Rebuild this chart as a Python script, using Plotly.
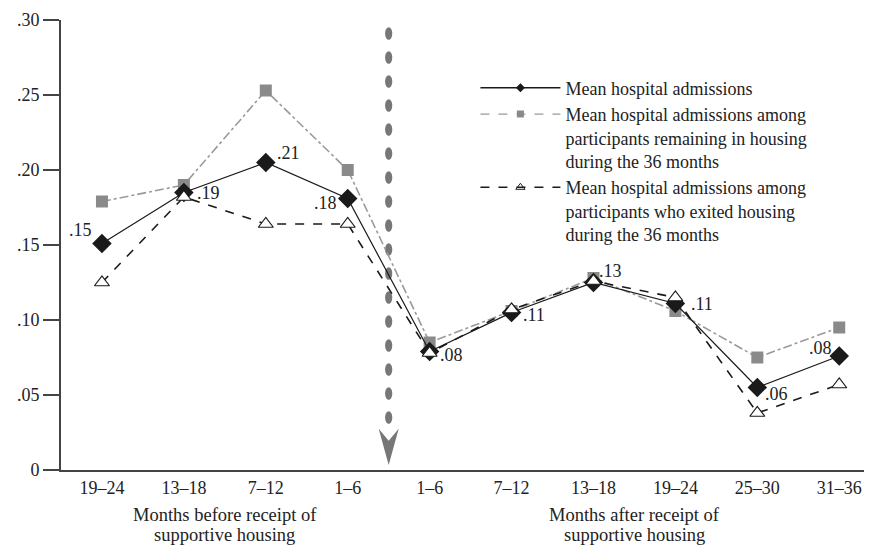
import plotly.graph_objects as go

# ---- data ----
categories = ["19–24", "13–18", "7–12", "1–6", "1–6", "7–12", "13–18", "19–24", "25–30", "31–36"]
x_idx = list(range(len(categories)))
mean_all = [0.151, 0.185, 0.205, 0.181, 0.079, 0.105, 0.125, 0.111, 0.055, 0.076]
remaining = [0.179, 0.190, 0.253, 0.200, 0.085, 0.106, 0.128, 0.106, 0.075, 0.095]
exited = [0.125, 0.182, 0.164, 0.164, 0.078, 0.107, 0.126, 0.115, 0.038, 0.057]
mean_labels = [".15", ".19", ".21", ".18", ".08", ".11", ".13", ".11", ".06", ".08"]
y_ticks = [0, 0.05, 0.10, 0.15, 0.20, 0.25, 0.30]
y_ticktext = ["0", ".05", ".10", ".15", ".20", ".25", ".30"]
names = ["Mean hospital admissions",
         "Mean hospital admissions among<br>participants remaining in housing<br>during the 36 months",
         "Mean hospital admissions among<br>participants who exited housing<br>during the 36 months"]
group_titles = [["Months before receipt of", "supportive housing"],
                ["Months after receipt of", "supportive housing"]]

# label offsets (pixels)
label_offsets = [(-21, 14), (25, 0), (23, 10), (-22, -4), (22, -3),
                 (22, -2), (17, 12), (27, 0), (19, -6), (-19, 8)]

FONT = "Liberation Serif"
BLACK = "#1a1a1a"
GRAY_M = "#8a8a8a"
GRAY_L = "#9a9a9a"
ARROW = "#777777"

fig = go.Figure()

fig.add_trace(go.Scatter(x=x_idx, y=remaining, mode="lines+markers", showlegend=False,
                         line=dict(color=GRAY_L, width=1.6, dash="dashdot"),
                         marker=dict(symbol="square", size=12, color=GRAY_M), cliponaxis=False))
fig.add_trace(go.Scatter(x=x_idx, y=exited, mode="lines", showlegend=False,
                         line=dict(color=BLACK, width=1.6, dash="dash"), cliponaxis=False))
fig.add_trace(go.Scatter(x=x_idx, y=mean_all, mode="lines+markers", showlegend=False,
                         line=dict(color=BLACK, width=1.2),
                         marker=dict(symbol="diamond", size=15, color=BLACK), cliponaxis=False))
fig.add_trace(go.Scatter(x=x_idx, y=exited, mode="markers", showlegend=False,
                         marker=dict(symbol="triangle-up", size=13, color="white",
                                     line=dict(color=BLACK, width=1.2)), cliponaxis=False))

# legend-only traces
fig.add_trace(go.Scatter(x=[None], y=[None], mode="lines+markers", name=names[0],
                         line=dict(color=BLACK, width=1.4),
                         marker=dict(symbol="diamond", size=7, color=BLACK)))
fig.add_trace(go.Scatter(x=[None], y=[None], mode="lines+markers", name=names[1],
                         line=dict(color=GRAY_L, width=1.4, dash="dash"),
                         marker=dict(symbol="square", size=7, color=GRAY_M)))
fig.add_trace(go.Scatter(x=[None], y=[None], mode="lines+markers", name=names[2],
                         line=dict(color=BLACK, width=1.4, dash="dash"),
                         marker=dict(symbol="triangle-up-open", size=8, color=BLACK,
                                     line=dict(width=1))))

# data labels for mean series
for i, (lab, (dx, dy)) in enumerate(zip(mean_labels, label_offsets)):
    fig.add_annotation(x=x_idx[i], y=mean_all[i], text=lab, showarrow=False,
                       xshift=dx, yshift=dy, font=dict(family=FONT, size=18, color="#222"))

# group titles (one annotation per line for tight spacing)
group_centers = [(x_idx[0] + x_idx[3]) / 2, (x_idx[4] + x_idx[9]) / 2]
for cx, lines in zip(group_centers, group_titles):
    for j, line in enumerate(lines):
        fig.add_annotation(x=cx, y=0, yref="paper", yanchor="middle", yshift=-45 - 20 * j,
                           text=line, showarrow=False,
                           font=dict(family=FONT, size=18.5, color="#222"))

# dotted arrow between before and after
arrow_x = (x_idx[3] + x_idx[4]) / 2
for k in range(17):
    yc = 0.291 - k * 0.016
    fig.add_shape(type="circle", xref="x", yref="y", xsizemode="pixel", xanchor=arrow_x,
                  x0=-3.6, x1=3.6, y0=yc - 0.0042, y1=yc + 0.0042,
                  fillcolor=ARROW, line=dict(width=0), layer="below")
fig.add_shape(type="path", xref="x", yref="y", xsizemode="pixel", xanchor=arrow_x,
              path="M-10,0.0275 L0,0.0195 L10,0.0275 L0,0.0033 Z",
              fillcolor=ARROW, line=dict(width=0), layer="below")

fig.update_layout(
    width=864, height=537,
    margin=dict(l=53, r=0, t=12, b=75),
    paper_bgcolor="white", plot_bgcolor="white",
    font=dict(family=FONT, size=18, color="#222"),
    showlegend=True,
    legend=dict(x=0.511, y=0.89, xanchor="left", yanchor="top",
                font=dict(family=FONT, size=18, color="#222"),
                itemwidth=80, valign="top",
                bgcolor="rgba(0,0,0,0)"),
    xaxis=dict(range=[-0.5, 9.4], tickvals=x_idx, ticktext=categories,
               showline=True, linecolor="#444", linewidth=2, ticks="",
               showgrid=False, zeroline=False, tickfont=dict(family=FONT, size=18)),
    yaxis=dict(range=[0, 0.30], tickvals=y_ticks, ticktext=y_ticktext,
               showline=True, linecolor="#444", linewidth=2, ticks="outside",
               ticklen=16, tickwidth=1.5, tickcolor="#444",
               showgrid=False, zeroline=False, tickfont=dict(family=FONT, size=18)),
)

fig.write_html("out.html")
